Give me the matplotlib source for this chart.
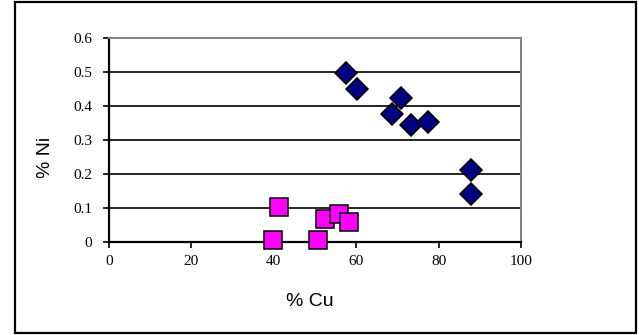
import matplotlib
matplotlib.use("Agg")
import matplotlib.pyplot as plt
from matplotlib.patches import Rectangle

# % Cu / % Ni of the two groups
cu_diamond = [57.6, 60.2, 70.8, 68.8, 73.3, 77.4, 87.8, 87.8]
ni_diamond = [0.496, 0.451, 0.422, 0.375, 0.344, 0.351, 0.210, 0.139]

cu_square = [41.2, 39.7, 50.8, 52.4, 55.7, 58.2]
ni_square = [0.102, 0.005, 0.005, 0.066, 0.080, 0.059]

x_ticks = [0, 20, 40, 60, 80, 100]
y_ticks = [0, 0.1, 0.2, 0.3, 0.4, 0.5, 0.6]

fig = plt.figure(figsize=(6.39, 3.35), dpi=100)
ax = fig.add_axes([0.1706, 0.279, 0.6448, 0.6075])

# horizontal grid lines, black, plus grey frame at top/right
for y in y_ticks[1:-1]:
    ax.axhline(y, color="black", lw=1.2, zorder=1)

ax.plot(cu_diamond, ni_diamond, linestyle="none", marker="D", markersize=11.5,
        markerfacecolor="#000080", markeredgecolor="black", markeredgewidth=1.1,
        zorder=3, clip_on=False)
ax.plot(cu_square, ni_square, linestyle="none", marker="s", markersize=13,
        markerfacecolor="#FF00FF", markeredgecolor="black", markeredgewidth=1.1,
        zorder=3, clip_on=False)

ax.set_xlim(0, 100)
ax.set_ylim(0, 0.6)
ax.set_xticks(x_ticks)
ax.set_yticks(y_ticks)
ax.set_xticklabels([str(v) for v in x_ticks])
ax.set_yticklabels(["0", "0.1", "0.2", "0.3", "0.4", "0.5", "0.6"])

for lab in ax.get_xticklabels() + ax.get_yticklabels():
    lab.set_fontfamily("Liberation Serif")
    lab.set_fontsize(11)

ax.tick_params(axis="both", direction="out", length=4, width=1.2, color="black", pad=6)
ax.tick_params(axis="y", pad=8)

for side in ["left", "bottom"]:
    ax.spines[side].set_color("black")
    ax.spines[side].set_linewidth(1.6)
for side in ["top", "right"]:
    ax.spines[side].set_color("#808080")
    ax.spines[side].set_linewidth(1.4)

ax.set_xlabel("% Cu", fontfamily="Liberation Sans", fontsize=14)
ax.set_ylabel("% Ni", fontfamily="Liberation Sans", fontsize=14)
ax.xaxis.label.set_va("center")
ax.yaxis.label.set_va("center")
ax.xaxis.set_label_coords(0.487, -0.296)
ax.yaxis.set_label_coords(-0.155, 0.415)

# outer chart border
fig.patches.append(Rectangle((0.0235, 0.006), 0.972, 0.988, transform=fig.transFigure,
                             fill=False, edgecolor="black", linewidth=1.6))

fig.savefig("out.png", dpi=100)
